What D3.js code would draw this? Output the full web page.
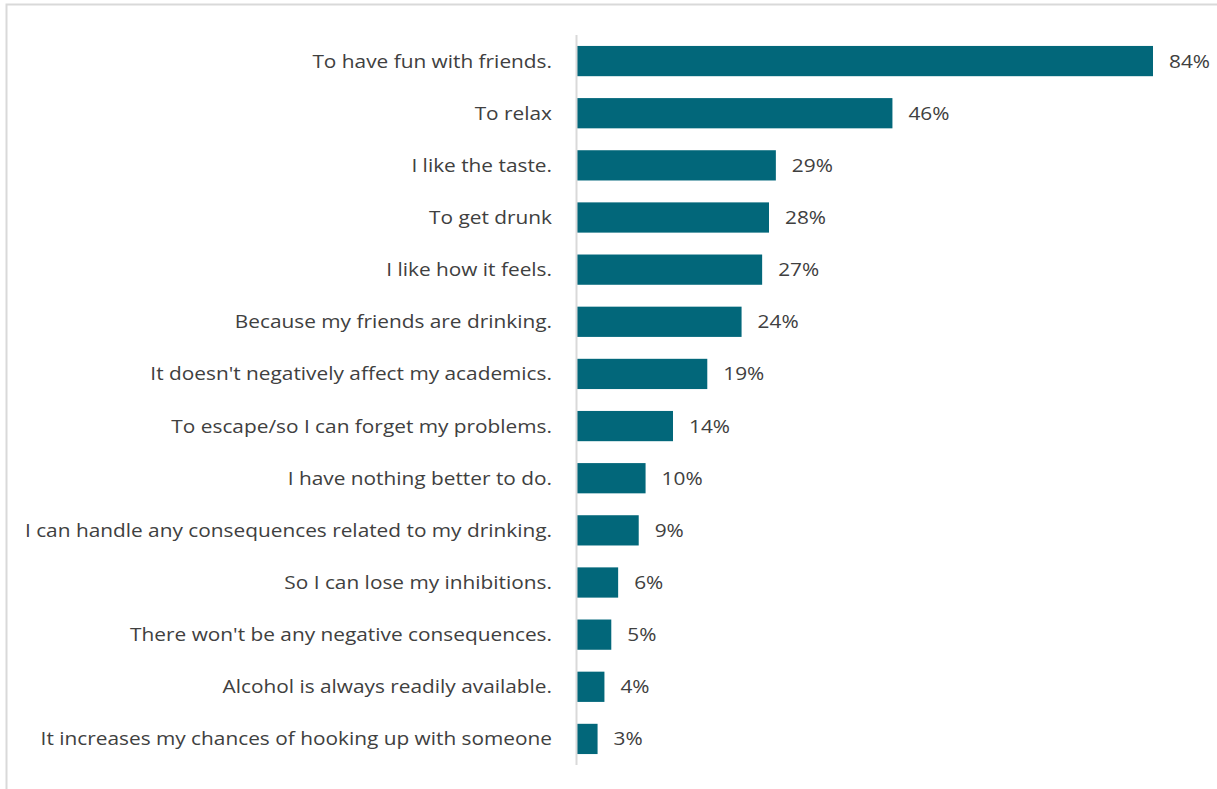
<!DOCTYPE html>
<html>
<head>
<meta charset="utf-8">
<script src="https://cdn.jsdelivr.net/npm/d3@7"></script>
<style>
  html, body { margin: 0; padding: 0; background: #fff; }
  svg { display: block; }
</style>
</head>
<body>
<svg id="chart" width="1217" height="789"></svg>
<script>
// Reasons given for drinking, share of respondents (%)
const reasons = [
  "To have fun with friends.",
  "To relax",
  "I like the taste.",
  "To get drunk",
  "I like how it feels.",
  "Because my friends are drinking.",
  "It doesn't negatively affect my academics.",
  "To escape/so I can forget my problems.",
  "I have nothing better to do.",
  "I can handle any consequences related to my drinking.",
  "So I can lose my inhibitions.",
  "There won't be any negative consequences.",
  "Alcohol is always readily available.",
  "It increases my chances of hooking up with someone"
];
const shares = [84, 46, 29, 28, 27, 24, 19, 14, 10, 9, 6, 5, 4, 3];

const svg = d3.select("#chart");
const W = 1217, H = 789;
const font = "'Open Sans', sans-serif";
const stretch = 1.127; // slightly widened lettering

// chart area frame (extends past the bottom and right edges)
svg.append("rect")
  .attr("x", 6.5).attr("y", 4.5)
  .attr("width", W + 10).attr("height", H + 10)
  .attr("fill", "#fff")
  .attr("stroke", "#d9d9d9")
  .attr("stroke-width", 2);

const x0 = 577;
const x = d3.scaleLinear().domain([0, 84]).range([x0, 1153]);
const y = d3.scaleBand().domain(reasons).range([35, 765]).paddingInner(0.42).paddingOuter(0.21);

// bars
svg.append("g").selectAll("rect")
  .data(reasons)
  .join("rect")
  .attr("x", x(0))
  .attr("y", d => y(d))
  .attr("width", (d, i) => x(shares[i]) - x(0))
  .attr("height", y.bandwidth())
  .attr("fill", "#02677a");

// category axis line
svg.append("line")
  .attr("x1", x0 - 0.5).attr("x2", x0 - 0.5)
  .attr("y1", 35).attr("y2", 765)
  .attr("stroke", "#d9d9d9")
  .attr("stroke-width", 2);

// category labels
svg.append("g").selectAll("text")
  .data(reasons)
  .join("text")
  .attr("transform", d => `translate(552,${y(d) + y.bandwidth() / 2}) scale(${stretch},1)`)
  .attr("dy", "0.35em")
  .attr("text-anchor", "end")
  .attr("font-family", font)
  .attr("font-size", 18.5)
  .attr("fill", "#404040")
  .text(d => d);

// value labels
svg.append("g").selectAll("text")
  .data(reasons)
  .join("text")
  .attr("transform", (d, i) => `translate(${x(shares[i]) + 16},${y(d) + y.bandwidth() / 2}) scale(${stretch},1)`)
  .attr("dy", "0.35em")
  .attr("font-family", font)
  .attr("font-size", 18.5)
  .attr("fill", "#404040")
  .text((d, i) => shares[i] + "%");
</script>
</body>
</html>
